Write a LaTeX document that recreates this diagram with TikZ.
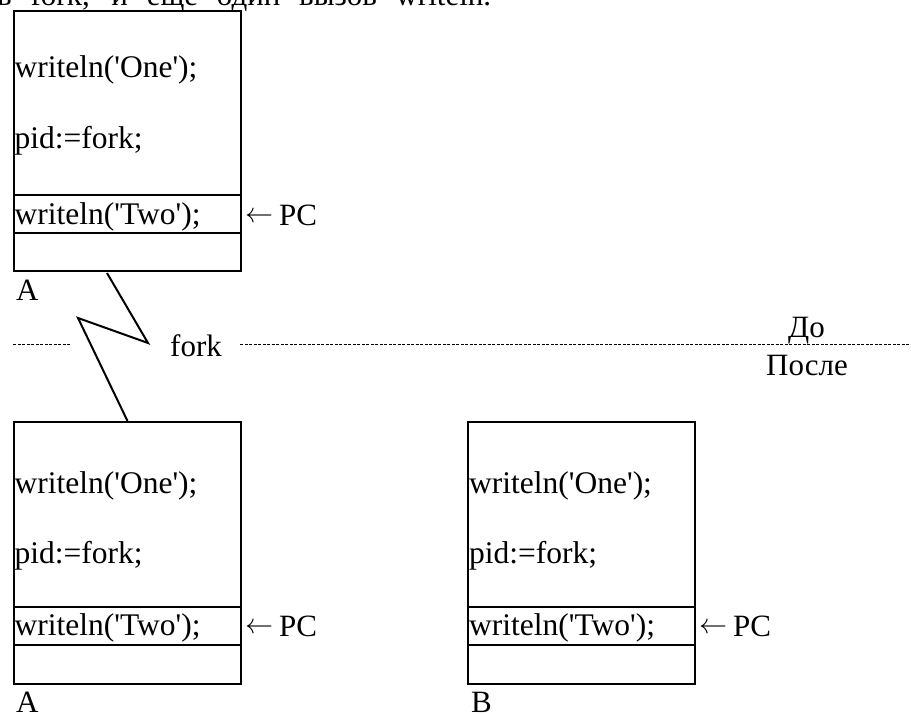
\documentclass[tikz,border=0pt]{standalone}
\usepackage{fontspec}
\setmainfont{Liberation Serif}
\newcommand{\sq}{\textquotesingle}
\newcommand{\pcmark}{\raisebox{2.5pt}{\resizebox{28pt}{!}{$\leftarrow$}}\hspace{6pt}PC}
\begin{document}
\begin{tikzpicture}[x=1pt,y=-1pt,
  font=\fontsize{31}{36}\selectfont,
  frame/.style={draw,line width=2pt},
  membox/.style={frame,inner sep=0pt,anchor=north west,minimum width=227pt},
  txt/.style={inner sep=0pt,anchor=base west},
  code/.style={txt,font=\fontsize{31.5}{36}\selectfont},
  sepline/.style={line width=1pt,dash pattern=on 3pt off 1.5pt},
  bolt/.style={line width=2pt,line join=miter}]
\useasboundingbox (0,0) rectangle (911,713);

% running text of the page above the figure, cut by the page edge
\begin{scope}
  \clip (0,0) rectangle (911,713);
  \node[txt] (lead) at (-3,5) {\makebox[494pt][s]{в fork, и еще один вызов writeln.}};
\end{scope}

% ---------- process A before fork ----------
\node[membox,minimum height=260pt] (topA) at (13,10) {};
\draw[frame] (13,195) -- (240,195);
\draw[frame] (13,233) -- (240,233);
\node[code] (topA1) at (14.5,77)  {writeln(\sq One\sq);};
\node[code] (topA2) at (14.5,148) {pid:=fork;};
\node[code] (topA3) at (14.5,224) {writeln(\sq Two\sq);};
\node[txt] (topApc) at (245,225) {\pcmark};
\node[txt] (topAlbl) at (16,300) {A};

% ---------- separator ----------
\coordinate (sepL0) at (13,344);
\coordinate (sepL1) at (70,344);
\coordinate (sepR0) at (240,344);
\coordinate (sepR1) at (911,344);
\draw[sepline] (sepL0) -- (sepL1);
\draw[sepline] (sepR0) -- (sepR1);
\node[txt] (forklbl) at (170,356) {fork};
\node[txt] (before) at (788,337) {До};
\node[txt] (after) at (766,375) {После};

% ---------- process A after fork ----------
\node[membox,minimum height=262pt] (botA) at (13,421) {};
\draw[frame] (13,607) -- (240,607);
\draw[frame] (13,645) -- (240,645);
\node[code] (botA1) at (14.5,493) {writeln(\sq One\sq);};
\node[code] (botA2) at (14.5,563) {pid:=fork;};
\node[code] (botA3) at (14.5,635) {writeln(\sq Two\sq);};
\node[txt] (botApc) at (245,636) {\pcmark};
\node[txt] (botAlbl) at (16,712) {A};

% ---------- process B after fork ----------
\node[membox,minimum height=262pt] (botB) at (467,421) {};
\draw[frame] (467,607) -- (694,607);
\draw[frame] (467,645) -- (694,645);
\node[code] (botB1) at (469,493) {writeln(\sq One\sq);};
\node[code] (botB2) at (469,563) {pid:=fork;};
\node[code] (botB3) at (469,635) {writeln(\sq Two\sq);};
\node[txt] (botBpc) at (699,636) {\pcmark};
\node[txt] (botBlbl) at (471,712) {B};

% ---------- fork bolt ----------
\coordinate (z0) at (107,273);
\coordinate (z1) at (148,343);
\coordinate (z2) at (78,318);
\coordinate (z3) at (127.5,421);
\draw[bolt] (z0) -- (z1) -- (z2) -- (z3);
\end{tikzpicture}
\end{document}
